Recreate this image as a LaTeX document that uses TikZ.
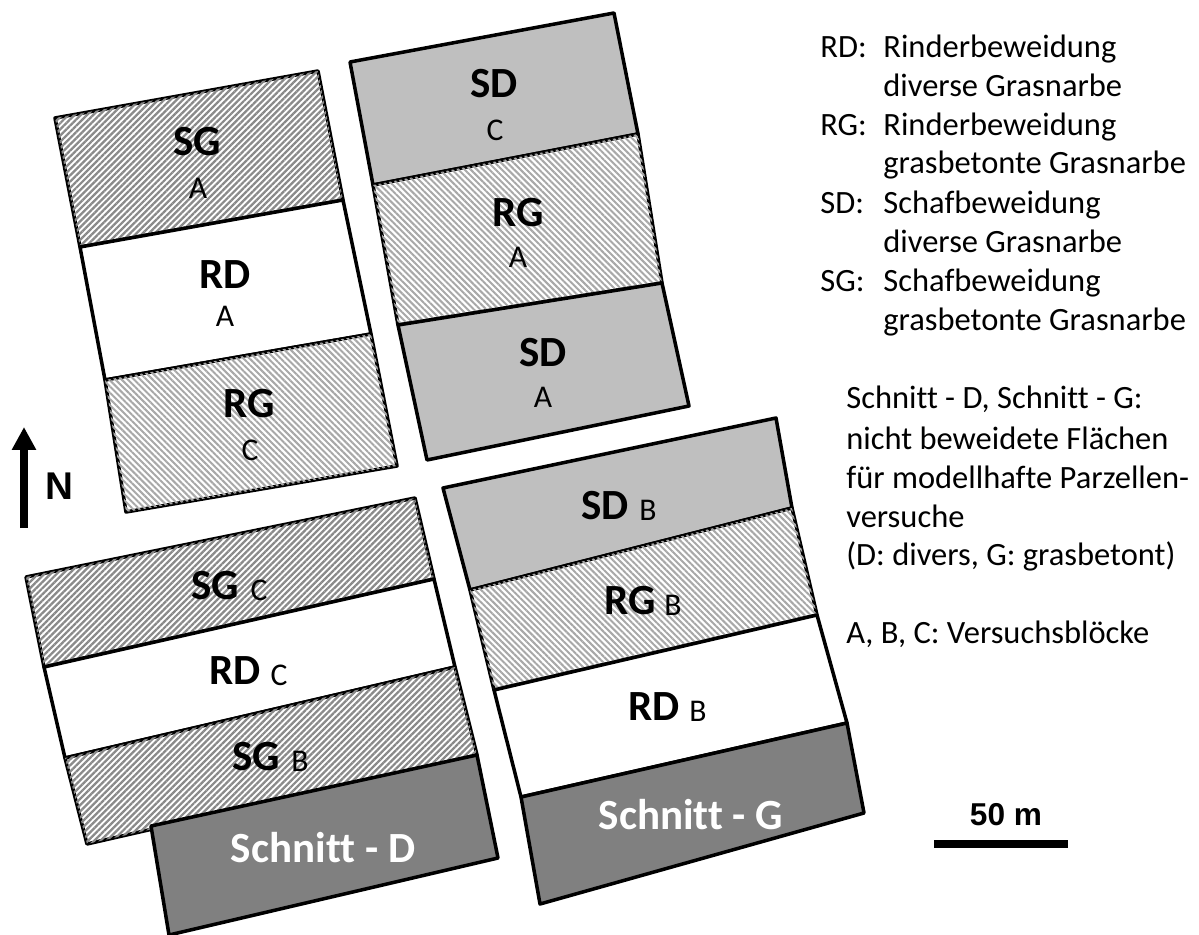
\documentclass[tikz,border=0pt]{standalone}
\usepackage{fontspec}
\setmainfont[Ligatures=NoCommon]{Carlito}
\newfontfamily\arialfont{Liberation Sans}
\usetikzlibrary{patterns.meta,arrows.meta}
\tikzset{
  plot/.style={draw, line width=2pt, line join=round},
  sgplot/.style={plot, fill=white, postaction={pattern={Lines[angle=45,distance=2.5pt,line width=1.3pt]}, pattern color=black!46}},
  rgplot/.style={plot, fill=white, postaction={pattern={Lines[angle=-45,distance=2.5pt,line width=1.15pt]}, pattern color=black!34}},
  sdplot/.style={plot, fill=black!25},
  rdplot/.style={plot, fill=white},
  cutplot/.style={plot, fill=black!50},
  code/.style={font=\fontsize{24.5}{28}\selectfont\bfseries, inner sep=0pt},
  block/.style={font=\fontsize{18}{21}\selectfont, inner sep=0pt},
  legend/.style={font=\fontsize{18.5}{22}\selectfont, inner sep=0pt, anchor=base west},
  sign/.style={font=\arialfont\bfseries, inner sep=0pt}
}
\begin{document}
\begin{tikzpicture}[x=0.02cm, y=-0.02cm]
  \useasboundingbox (0,0) rectangle (1199,935);

  % Block oben links
  \draw[sgplot] (55,118) -- (318,71) -- (343,200) -- (80,247) -- cycle;
  \draw[rdplot] (80,247) -- (343,200) -- (371,334) -- (105,380) -- cycle;
  \draw[rgplot] (105,380) -- (371,334) -- (397,466) -- (126,512) -- cycle;

  % Block oben rechts
  \draw[sdplot] (350,62) -- (614,13) -- (638,134) -- (373,185) -- cycle;
  \draw[rgplot] (373,185) -- (638,134) -- (662,283) -- (398,325) -- cycle;
  \draw[sdplot] (398,325) -- (662,283) -- (689,406) -- (427,460) -- cycle;

  % Block unten links
  \draw[sgplot] (26,577) -- (415,498) -- (434,579) -- (44,667) -- cycle;
  \draw[rdplot] (44,667) -- (434,579) -- (455,667) -- (65,758) -- cycle;
  \draw[sgplot] (65,758) -- (455,667) -- (477,755) -- (87,844) -- cycle;
  \draw[cutplot] (151,826) -- (477,755) -- (498,858) -- (169,935) -- cycle;

  % Block unten rechts
  \draw[sdplot] (443,488) -- (776,418) -- (792,508) -- (470,590) -- cycle;
  \draw[rgplot] (470,590) -- (792,508) -- (817,615) -- (494,690) -- cycle;
  \draw[rdplot] (494,690) -- (817,615) -- (847,723) -- (521,797) -- cycle;
  \draw[cutplot] (521,797) -- (847,723) -- (864,813) -- (540,904) -- cycle;

  % Beschriftung der Flaechen
  \node[code] (sga) at (197,142) {SG};
  \node[block] (sgablock) at (198,188) {A};
  \node[code] (rda) at (225,275) {RD};
  \node[block] (rdablock) at (225,316) {A};
  \node[code] (rgc) at (249,404) {RG};
  \node[block] (rgcblock) at (250,450) {C};
  \node[code] (sdc) at (494,84) {SD};
  \node[block] (sdcblock) at (495,130) {C};
  \node[code] (rga) at (518,213) {RG};
  \node[block] (rgablock) at (518,257) {A};
  \node[code] (sda) at (543,353) {SD};
  \node[block] (sdablock) at (543,397) {A};

  \node[code] (sgc) at (215,586) {SG};
  \node[block] (sgcblock) at (259,590) {C};
  \node[code] (rdc) at (235,671) {RD};
  \node[block] (rdcblock) at (279,675) {C};
  \node[code] (sgb) at (256,757) {SG};
  \node[block] (sgbblock) at (300,761) {B};
  \node[code] (sdb) at (605,506) {SD};
  \node[block] (sdbblock) at (648,510) {B};
  \node[code] (rgb) at (630,601) {RG};
  \node[block] (rgbblock) at (673,605) {B};
  \node[code] (rdb) at (654,707) {RD};
  \node[block] (rdbblock) at (698,711) {B};

  \node[code, text=white] (cutd) at (323,848) {Schnitt - D};
  \node[code, text=white] (cutg) at (691,815) {Schnitt - G};

  % Nordpfeil
  \coordinate (nsouth) at (24,528);
  \coordinate (nnorth) at (24,427);
  \draw[-{Triangle[length=13pt,width=13pt]}, line width=4pt] (nsouth) -- (nnorth);
  \node[sign, font=\arialfont\bfseries\fontsize{22}{26}\selectfont] (north) at (59,486) {N};

  % Massstab
  \coordinate (barleft) at (934,844);
  \coordinate (barright) at (1068,844);
  \draw[line width=4.4pt] (barleft) -- (barright);
  \node[sign, font=\arialfont\bfseries\fontsize{18}{22}\selectfont] (barlabel) at (1006,815) {50 m};

  % Legende
  \node[legend] (rdkey) at (820,58) {RD:};
  \node[legend] (rdline) at (883,58) {Rinderbeweidung};
  \node[legend] (rdnext) at (883,97) {diverse Grasnarbe};
  \node[legend] (rgkey) at (820,136) {RG:};
  \node[legend] (rgline) at (883,136) {Rinderbeweidung};
  \node[legend] (rgnext) at (883,174) {grasbetonte Grasnarbe};
  \node[legend] (sdkey) at (820,214) {SD:};
  \node[legend] (sdline) at (883,214) {Schafbeweidung};
  \node[legend] (sdnext) at (883,253) {diverse Grasnarbe};
  \node[legend] (sgkey) at (820,292) {SG:};
  \node[legend] (sgline) at (883,292) {Schafbeweidung};
  \node[legend] (sgnext) at (883,331) {grasbetonte Grasnarbe};

  \node[legend] (cuta) at (846,409) {Schnitt - D, Schnitt - G:};
  \node[legend] (cutb) at (846,449) {nicht beweidete Flächen};
  \node[legend] (cutc) at (846,488) {für modellhafte Parzellen-};
  \node[legend] (cute) at (846,527) {versuche};
  \node[legend] (cutf) at (846,565) {(D: divers, G: grasbetont)};
  \node[legend] (blocks) at (846,643) {A, B, C: Versuchsblöcke};
\end{tikzpicture}
\end{document}
